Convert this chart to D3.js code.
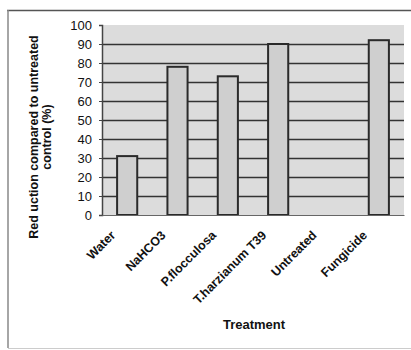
<!DOCTYPE html>
<html>
<head>
<meta charset="utf-8">
<script src="https://cdn.jsdelivr.net/npm/d3@7.9.0/dist/d3.min.js"></script>
<style>
  body { margin: 0; background: #fff; }
  svg text { font-family: Arial, "Liberation Sans", sans-serif; fill: #111; }
</style>
</head>
<body>
<div id="chart"></div>
<script>
// Chart data
const treatments = ['Water', 'NaHCO3', 'P.flocculosa', 'T.harzianum T39', 'Untreated', 'Fungicide'];
const reduction = [31, 78, 73, 90, 0, 92];
const yTicks = [0, 10, 20, 30, 40, 50, 60, 70, 80, 90, 100];

const width = 411;
const height = 350;
const plot = { left: 102, right: 404, top: 25, bottom: 215 };

const svg = d3.select('#chart')
  .append('svg')
  .attr('width', width)
  .attr('height', height);

// outer frame (scanned figure border)
svg.append('line')
  .attr('x1', 7).attr('x2', width).attr('y1', 10.5).attr('y2', 10.5)
  .attr('stroke', '#555').attr('stroke-width', 1.5);
svg.append('line')
  .attr('x1', 8).attr('x2', 8).attr('y1', 10).attr('y2', 348)
  .attr('stroke', '#888').attr('stroke-width', 1.5);
svg.append('line')
  .attr('x1', 8).attr('x2', width).attr('y1', 348.5).attr('y2', 348.5)
  .attr('stroke', '#ccc').attr('stroke-width', 1);

const xScale = d3.scaleBand()
  .domain(treatments)
  .range([plot.left, plot.right])
  .paddingInner(0.6)
  .paddingOuter(0.3);

const yScale = d3.scaleLinear()
  .domain([0, 100])
  .range([plot.bottom, plot.top]);

// plot background
svg.append('rect')
  .attr('x', plot.left).attr('y', plot.top)
  .attr('width', plot.right - plot.left)
  .attr('height', plot.bottom - plot.top)
  .attr('fill', '#dcdcdc');

// gridlines
svg.append('g')
  .attr('transform', `translate(${plot.left},0)`)
  .call(d3.axisLeft(yScale).tickValues(yTicks.filter(d => d > 0 && d < 100)).tickFormat('').tickSize(-(plot.right - plot.left)))
  .call(g => g.select('.domain').remove())
  .selectAll('.tick line')
  .attr('stroke', '#333')
  .attr('stroke-width', 1.5);

// bars
svg.append('g')
  .selectAll('rect')
  .data(treatments.map((t, i) => ({ t, v: reduction[i] })).filter(d => d.v > 0))
  .join('rect')
  .attr('x', d => xScale(d.t))
  .attr('y', d => yScale(d.v))
  .attr('width', xScale.bandwidth())
  .attr('height', d => yScale(0) - yScale(d.v))
  .attr('fill', '#cfcfcf')
  .attr('stroke', '#2a2a2a')
  .attr('stroke-width', 2);

// y axis
const yAxis = svg.append('g')
  .attr('transform', `translate(${plot.left},0)`)
  .call(d3.axisLeft(yScale).tickValues(yTicks).tickSize(3).tickPadding(7));
yAxis.select('.domain').attr('stroke', '#444').attr('stroke-width', 1.5);
yAxis.selectAll('.tick line').attr('stroke', '#444');
yAxis.selectAll('.tick text')
  .attr('font-size', 13)
  .attr('fill', '#111');

// x axis baseline
svg.append('g')
  .attr('transform', `translate(0,${plot.bottom})`)
  .call(d3.axisBottom(xScale).tickSize(0).tickFormat(''))
  .select('.domain').attr('stroke', '#666').attr('stroke-width', 1);

// rotated category labels
svg.append('g')
  .selectAll('text')
  .data(treatments)
  .join('text')
  .attr('transform', d => `translate(${xScale(d) + xScale.bandwidth() / 2 - 11},${plot.bottom + 21}) rotate(-45)`)
  .attr('text-anchor', 'end')
  .attr('font-size', 12.5)
  .attr('font-weight', 'bold')
  .text(d => d);

// axis titles
svg.append('text')
  .attr('x', 254).attr('y', 329)
  .attr('text-anchor', 'middle')
  .attr('font-size', 13)
  .attr('font-weight', 'bold')
  .text('Treatment');

const yTitle = svg.append('text')
  .attr('transform', 'translate(38,137) rotate(-90)')
  .attr('text-anchor', 'middle')
  .attr('font-size', 12.5)
  .attr('font-weight', 'bold');
yTitle.append('tspan').attr('x', 0).attr('dy', 0).text('Red uction compared to untreated');
yTitle.append('tspan').attr('x', 0).attr('dy', 13).text('control (%)');
</script>
</body>
</html>
